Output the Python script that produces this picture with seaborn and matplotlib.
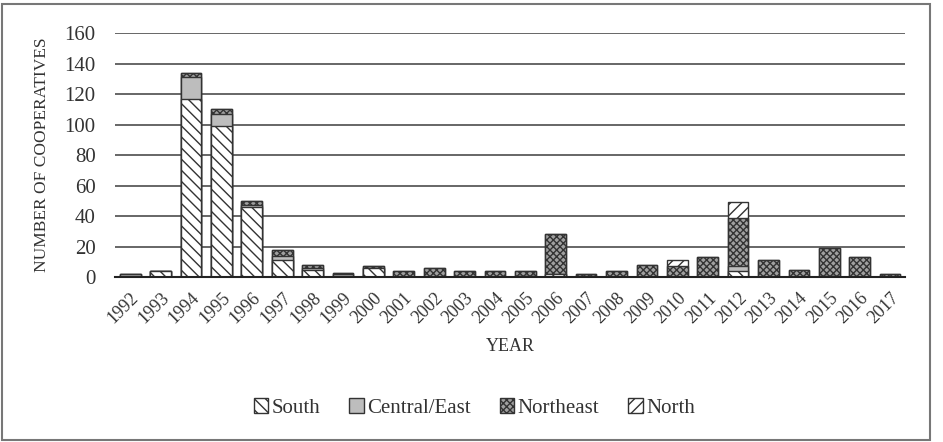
import matplotlib
matplotlib.use("Agg")
import matplotlib.pyplot as plt
from matplotlib.patches import Patch, Rectangle
import seaborn as sns
import numpy as np
import pandas as pd

years = [str(y) for y in range(1992, 2018)]
south = [1, 4, 117, 99, 46, 11, 5, 1, 6, 0, 0, 0, 0, 1, 2, 0, 0, 0, 0, 0, 4, 0, 0, 1, 0, 0]
central = [1, 0, 14, 8, 1, 3, 1, 1, 0, 0, 0, 0, 0, 0, 0, 1, 0, 0, 0, 0, 3, 0, 0, 0, 0, 0]
northeast = [0, 0, 3, 3, 3, 4, 2, 1, 1, 4, 6, 4, 4, 3, 26, 1, 4, 8, 7, 13, 32, 11, 5, 18, 13, 2]
north = [0, 0, 0, 0, 0, 0, 0, 0, 0, 0, 0, 0, 0, 0, 0, 0, 0, 0, 4, 0, 10, 0, 0, 0, 0, 0]
series_names = ["South", "Central/East", "Northeast", "North"]
yticks = [0, 20, 40, 60, 80, 100, 120, 140, 160]

sns.set_theme(style="white")
plt.rcParams["font.family"] = ["Liberation Serif", "DejaVu Serif"]
plt.rcParams["hatch.linewidth"] = 1.0

styles = {
    "South": dict(fc="white", hatch="\\\\\\"),
    "Central/East": dict(fc="#bdbdbd", hatch=""),
    "Northeast": dict(fc="#a0a0a0", hatch="xxxxx"),
    "North": dict(fc="white", hatch="///"),
}

fig = plt.figure(figsize=(9.43, 4.42), dpi=100)
ax = fig.add_axes([0.122, 0.373, 0.838, 0.552])

layers = [south, central, northeast, north]
cum = np.cumsum(np.array(layers), axis=0)
edge = "#333333"
# draw from top layer (total) to bottom so lower layers overlay upper cumulative bars
for i in range(len(layers) - 1, -1, -1):
    name = series_names[i]
    df = pd.DataFrame({"year": years, "value": cum[i]})
    sns.barplot(data=df, x="year", y="value", order=years, color=styles[name]["fc"],
                width=0.68, ax=ax, edgecolor=edge, linewidth=1.0, saturation=1)
    for p in ax.containers[-1].patches:
        p.set_facecolor(styles[name]["fc"])
        p.set_hatch(styles[name]["hatch"])
        p.set_edgecolor(edge)
        p.set_zorder(3)

ax.set_ylim(0, 160)
ax.set_xlim(-0.5, len(years) - 0.5)
ax.set_yticks(yticks)
ax.set_yticklabels([str(t) for t in yticks], fontsize=15, color="#333333")
ax.yaxis.grid(True, color="#666666", linewidth=1.4)
ax.set_axisbelow(True)
for s in ["left", "right", "top"]:
    ax.spines[s].set_visible(False)
ax.spines["bottom"].set_color("#222222")
ax.spines["bottom"].set_linewidth(1.5)
ax.spines["bottom"].set_zorder(4)
ax.tick_params(axis="y", length=0, pad=14)
ax.tick_params(axis="x", length=0, pad=9)
ax.set_xticks(range(len(years)))
ax.set_xticklabels(years, rotation=45, ha="right", rotation_mode="anchor",
                   fontsize=13, color="#333333")
ax.set_xlabel("YEAR", fontsize=13, color="#333333", labelpad=8)
ax.set_ylabel("NUMBER OF COOPERATIVES", fontsize=12.5, color="#333333", labelpad=10)

handles = [Patch(facecolor=styles[n]["fc"], hatch=styles[n]["hatch"], edgecolor=edge, label=n)
           for n in series_names]
fig.legend(handles=handles, loc="center", bbox_to_anchor=(0.503, 0.077), ncol=4,
           frameon=False, fontsize=15, handlelength=0.7, handleheight=0.7,
           handletextpad=0.15, columnspacing=1.4, labelcolor="#333333")

fig.patches.append(Rectangle((2 / 943, 2 / 442), 928 / 943, 436 / 442, transform=fig.transFigure,
                             fill=False, edgecolor="#777777", linewidth=1.5))

fig.savefig("out.png", dpi=100, facecolor="white")
